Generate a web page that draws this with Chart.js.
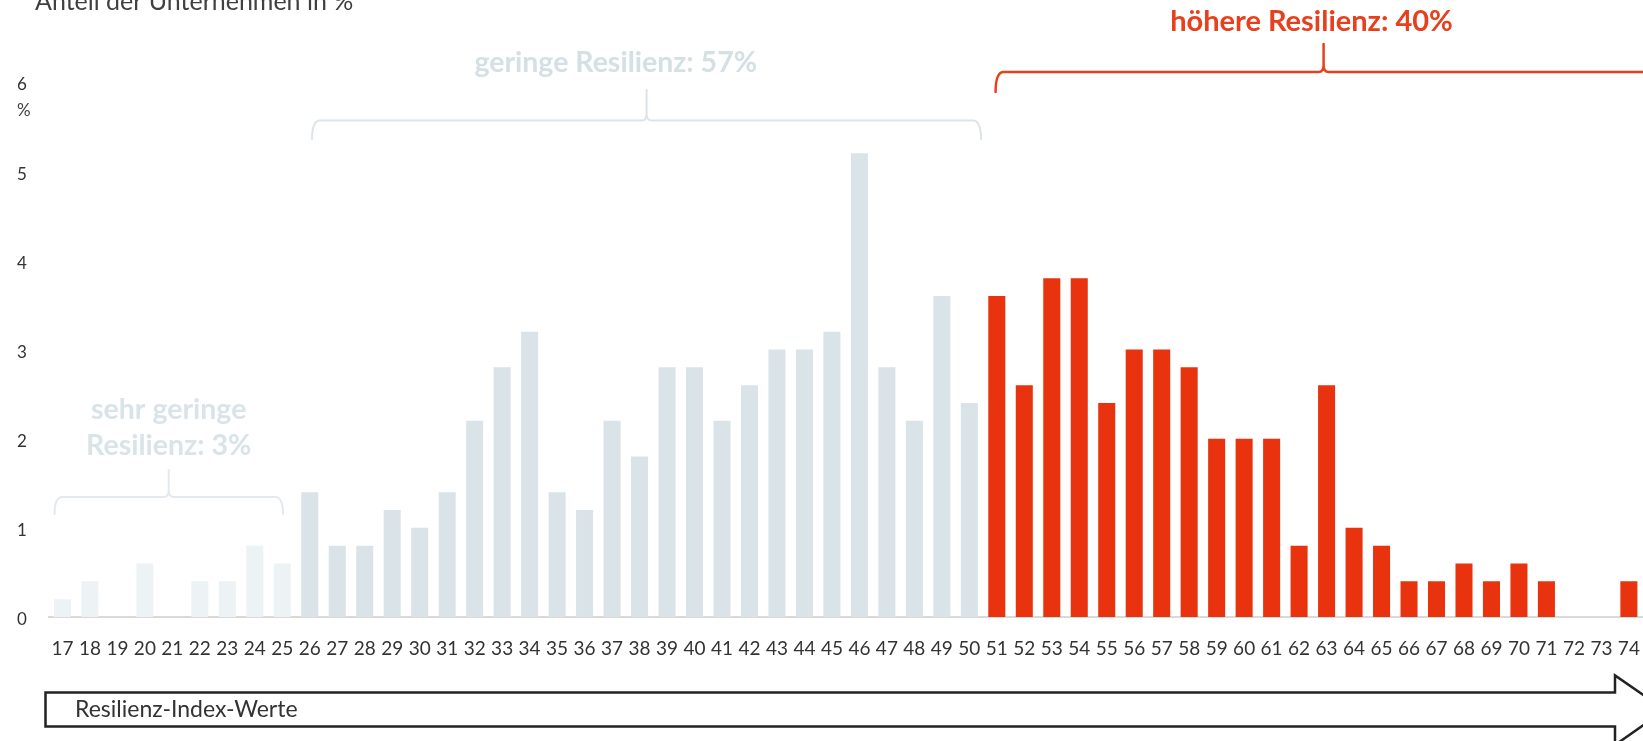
<!DOCTYPE html>
<html>
<head>
<meta charset="utf-8">
<script src="https://cdn.jsdelivr.net/npm/chart.js@4"></script>
<style>
html, body { margin: 0; padding: 0; overflow: hidden; background: #ffffff; width: 1643px; height: 741px; }
#wrap { position: absolute; left: 0; top: 0; width: 1660px; height: 741px; }
canvas { display: block; }
</style>
</head>
<body>
<div id="wrap"><canvas id="c" width="1660" height="741"></canvas></div>
<script>
// ---- data ----
const categories = ['17','18','19','20','21','22','23','24','25','26','27','28','29','30','31','32','33','34','35','36','37','38','39','40','41','42','43','44','45','46','47','48','49','50','51','52','53','54','55','56','57','58','59','60','61','62','63','64','65','66','67','68','69','70','71','72','73','74'];
const shares = [0.2,0.4,0,0.6,0,0.4,0.4,0.8,0.6,1.4,0.8,0.8,1.2,1.0,1.4,2.2,2.8,3.2,1.4,1.2,2.2,1.8,2.8,2.8,2.2,2.6,3.0,3.0,3.2,5.2,2.8,2.2,3.6,2.4,3.6,2.6,3.8,3.8,2.4,3.0,3.0,2.8,2.0,2.0,2.0,0.8,2.6,1.0,0.8,0.4,0.4,0.6,0.4,0.6,0.4,0,0,0.4];
const yTicks = [0,1,2,3,4,5,6];
const groupUpper = [25, 50, 999];           // last index value of each group
const groupLabels = [['sehr geringe','Resilienz: 3%'], ['geringe Resilienz: 57%'], ['höhere Resilienz: 40%']];
const yAxisTitle = 'Anteil der Unternehmen in %';
const yUnit = '%';
const arrowLabel = 'Resilienz-Index-Werte';

// ---- styles ----
const groupColors = ['#edf2f4', '#dae3e8', '#e8330e'];
const barColors = categories.map(c => {
  const v = +c;
  const g = groupUpper.findIndex(u => v <= u);
  return groupColors[g];
});

function brace(ctx, x1, x2, yLine, yEnd, xPeak, yPeak, r) {
  ctx.beginPath();
  ctx.moveTo(x1, yEnd);
  ctx.quadraticCurveTo(x1, yLine, x1 + r, yLine);
  ctx.lineTo(xPeak - 5, yLine);
  ctx.quadraticCurveTo(xPeak, yLine, xPeak, yLine - 7);
  ctx.lineTo(xPeak, yPeak);
  ctx.moveTo(xPeak, yLine - 7);
  ctx.quadraticCurveTo(xPeak, yLine, xPeak + 5, yLine);
  ctx.lineTo(x2 - r, yLine);
  ctx.quadraticCurveTo(x2, yLine, x2, yEnd);
  ctx.stroke();
}

const annotations = {
  id: 'annotations',
  afterDraw(chart) {
    const ctx = chart.ctx;
    ctx.save();
    // y axis title (cut at top)
    ctx.fillStyle = '#404040';
    ctx.font = '400 25px Lato';
    ctx.textAlign = 'left';
    ctx.textBaseline = 'alphabetic';
    ctx.fillText(yAxisTitle, 35, 10);
    // unit under top tick
    ctx.font = '400 17px Lato';
    ctx.textBaseline = 'middle';
    ctx.fillText(yUnit, 17, 111);

    ctx.lineCap = 'round';
    ctx.lineJoin = 'round';
    // sehr geringe
    ctx.strokeStyle = '#e3e9ed';
    ctx.lineWidth = 2;
    brace(ctx, 54.5, 283, 497, 514, 168.7, 470, 8);
    ctx.fillStyle = '#dae4e8';
    ctx.font = '700 28.5px Lato';
    ctx.textAlign = 'center';
    ctx.textBaseline = 'middle';
    ctx.fillText(groupLabels[0][0], 168.7, 410);
    ctx.fillText(groupLabels[0][1], 168.7, 446);
    // geringe
    ctx.strokeStyle = '#dce4e9';
    brace(ctx, 312, 981, 120.5, 139, 646.6, 90, 8);
    ctx.fillStyle = '#d5e0e5';
    ctx.fillText(groupLabels[1][0], 615.7, 63);
    // hoehere
    ctx.strokeStyle = '#e8401c';
    ctx.lineWidth = 2.5;
    brace(ctx, 995.6, 1651.6, 72, 92, 1323.6, 44, 8);
    ctx.fillStyle = '#e8401c';
    ctx.font = '700 29px Lato';
    ctx.fillText(groupLabels[2][0], 1311.5, 22);

    // arrow
    ctx.beginPath();
    ctx.moveTo(45.5, 692.5);
    ctx.lineTo(1615, 692.5);
    ctx.lineTo(1615, 675.5);
    ctx.lineTo(1665, 710);
    ctx.lineTo(1615, 745);
    ctx.lineTo(1615, 726.5);
    ctx.lineTo(45.5, 726.5);
    ctx.closePath();
    ctx.fillStyle = '#ffffff';
    ctx.fill();
    ctx.strokeStyle = '#222222';
    ctx.lineWidth = 2.5;
    ctx.lineJoin = 'miter';
    ctx.stroke();
    ctx.fillStyle = '#333333';
    ctx.font = '400 23px Lato';
    ctx.textAlign = 'left';
    ctx.textBaseline = 'middle';
    ctx.fillText(arrowLabel, 75, 710);
    ctx.restore();
  }
};

new Chart(document.getElementById('c'), {
  type: 'bar',
  data: {
    labels: categories,
    datasets: [{
      data: shares,
      backgroundColor: barColors,
      borderWidth: 0,
      categoryPercentage: 1,
      barPercentage: 0.62
    }]
  },
  options: {
    responsive: false,
    animation: false,
    events: [],
    layout: { padding: { left: 17, right: 11.7, top: 82, bottom: 0 } },
    plugins: { legend: { display: false }, tooltip: { enabled: false }, title: { display: false } },
    scales: {
      x: {
        offset: true,
        grid: { display: false, drawTicks: false },
        border: { display: true, color: '#d9d9d9', width: 2 },
        ticks: { color: '#333333', font: { family: 'Lato', size: 19 }, padding: 20, maxRotation: 0, autoSkip: false },
        afterFit(scale) { scale.height = 124; }
      },
      y: {
        min: 0, max: 6,
        afterBuildTicks(scale) { scale.ticks = yTicks.map(v => ({ value: v })); },
        grid: { display: false, drawTicks: false },
        border: { display: false },
        ticks: { color: '#333333', font: { family: 'Lato', size: 17 }, crossAlign: 'far', padding: 0, labelOffset: 3 },
        afterFit(scale) { scale.width = 31.7; }
      }
    }
  },
  plugins: [annotations]
});
</script>
</body>
</html>
